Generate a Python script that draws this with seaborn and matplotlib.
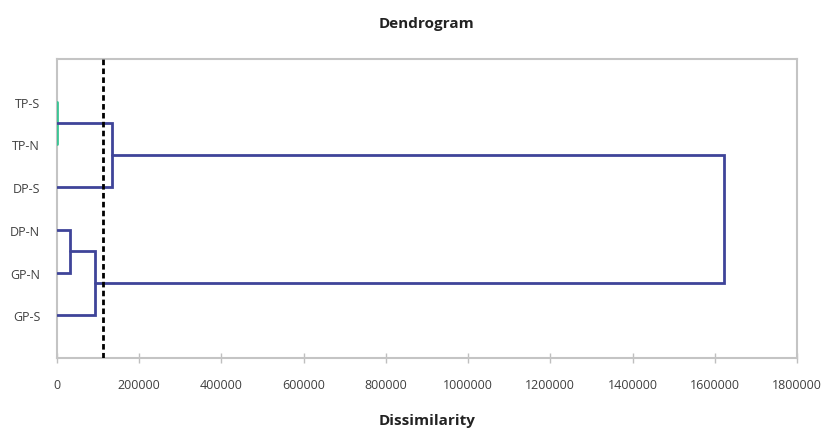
import numpy as np
import matplotlib
matplotlib.use("Agg")
import matplotlib.pyplot as plt
import seaborn as sns

# leaves, top to bottom
leaves = ["TP-S", "TP-N", "DP-S", "DP-N", "GP-N", "GP-S"]

# merges (like a linkage table): new cluster ids start at len(leaves)
link_a = [0, 3, 7, 6, 9]
link_b = [1, 4, 5, 2, 8]
link_h = [0, 32000, 93000, 134000, 1622000]
link_col = ["#3cc494", "#3f4499", "#3f4499", "#3f4499", "#3f4499"]

cut_level = 112000
x_ticks = [0, 200000, 400000, 600000, 800000, 1000000, 1200000, 1400000, 1600000, 1800000]

sns.set_style("white")
plt.rcParams["font.family"] = ["Open Sans", "DejaVu Sans"]

fig = plt.figure(figsize=(8.22, 4.31), dpi=100)
ax = fig.add_axes([0.0693, 0.167, 0.9003, 0.694])

# position (y) and height (x) of each node
pos = {i: float(i) for i in range(len(leaves))}
hgt = {i: 0.0 for i in range(len(leaves))}

for k, (a, b, h, c) in enumerate(zip(link_a, link_b, link_h, link_col)):
    node = len(leaves) + k
    ya, yb = pos[a], pos[b]
    xs = [hgt[a], h, h, hgt[b]]
    ys = [ya, ya, yb, yb]
    ax.plot(xs, ys, color=c, lw=2, solid_joinstyle="miter", zorder=3)
    pos[node] = (ya + yb) / 2
    hgt[node] = h

ax.axvline(cut_level, color="black", lw=2, ls=(0, (2, 1.2)), zorder=4)

ax.set_xlim(0, 1800000)
ax.set_ylim(len(leaves), -1)
ax.set_xticks(x_ticks)
ax.set_xticklabels([str(t) for t in x_ticks])
ax.set_yticks(range(len(leaves)))
ax.set_yticklabels(leaves)

ax.tick_params(axis="x", direction="inout", length=7, width=1, color="#bfbfbf",
               pad=11, labelsize=9, labelcolor="#404040", bottom=True)
ax.tick_params(axis="y", length=0, pad=12, labelsize=9, labelcolor="#404040")

for s in ax.spines.values():
    s.set_color("#c4c4c4")
    s.set_linewidth(1.5)

ax.set_title("Dendrogram", fontsize=11, fontweight="bold", color="#222222", pad=23)
ax.set_xlabel("Dissimilarity", fontsize=11, fontweight="bold", color="#222222", labelpad=16)

fig.savefig("out.png", dpi=100)
